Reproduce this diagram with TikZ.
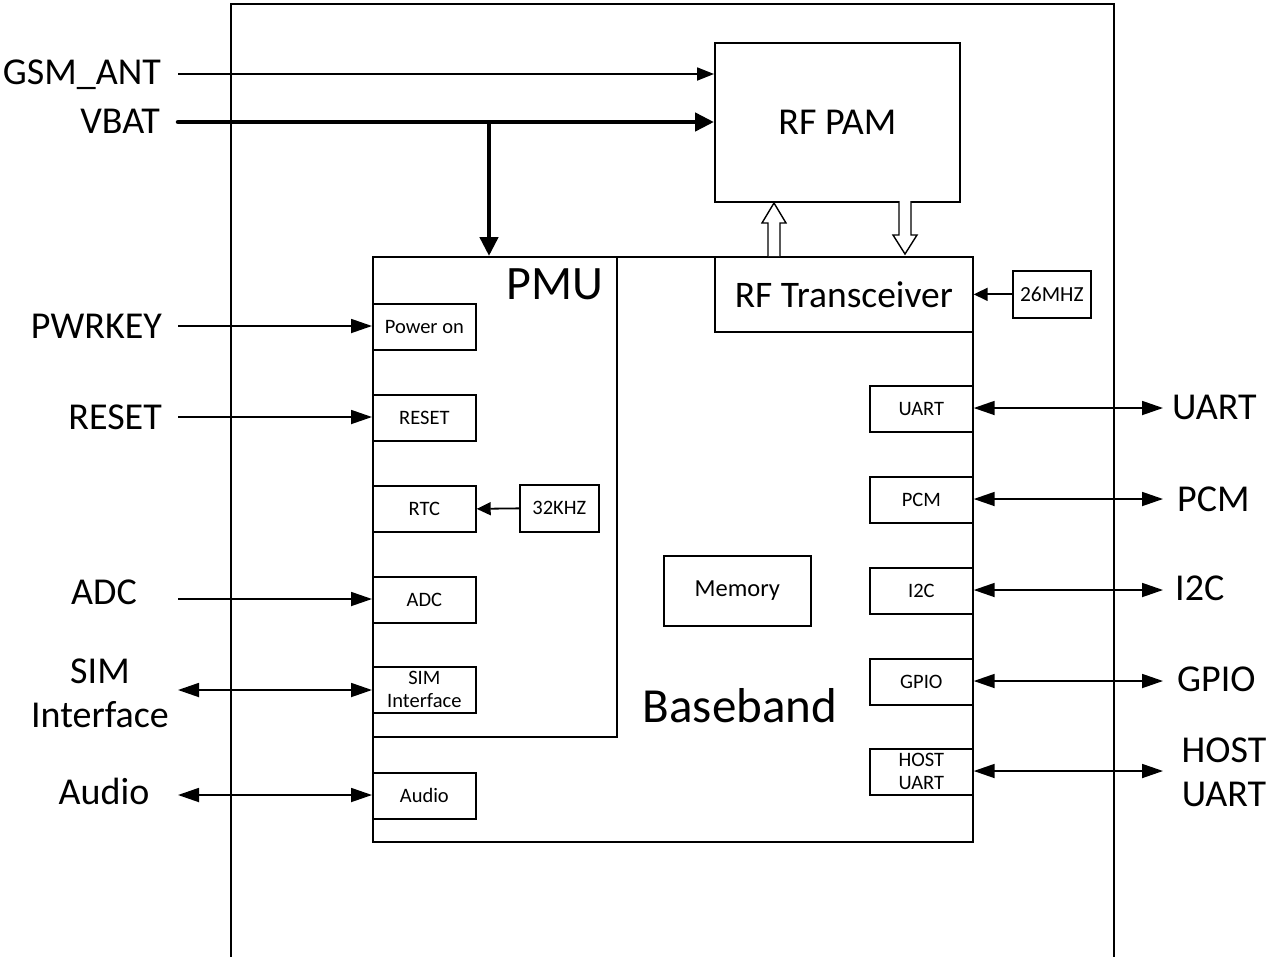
\documentclass[tikz,border=0pt]{standalone}
\usepackage{fontspec}
\setmainfont{Carlito}
\usetikzlibrary{arrows.meta}
\begin{document}
\begin{tikzpicture}[x=1pt,y=-1pt,
  blk/.style={draw, line width=1.7pt, inner sep=0pt, anchor=north west, align=center},
  sm/.style={blk, font=\fontsize{20.5}{23}\selectfont, minimum width=103pt, minimum height=46pt},
  lbl/.style={font=\fontsize{38}{44}\selectfont, inner sep=0pt, align=center},
  arr/.style={line width=1.8pt, -{Triangle[length=21pt,width=14pt]}},
  darr/.style={line width=1.8pt, {Triangle[length=21pt,width=14pt]}-{Triangle[length=21pt,width=14pt]}},
  sarr/.style={line width=1.8pt, -{Triangle[length=14pt,width=13pt]}},
  hollow/.style={draw, line width=1.4pt, fill=white, line join=miter}
]
\useasboundingbox (0,0) rectangle (1276,956);
% outer frame
\draw[line width=1.3pt] (231,4) rectangle (1114,975);

% main blocks
\node[blk, minimum width=600pt, minimum height=585pt] (bb) at (372,256) {};
\node[blk, minimum width=244pt, minimum height=480pt] (pmu) at (372,256) {};
\node[font=\fontsize{48}{52}\selectfont, inner sep=0pt] (pmut) at (555,284) {PMU};
\node[font=\fontsize{49}{54}\selectfont, inner sep=0pt] (bbt) at (740,706) {Baseband};
\node[blk, minimum width=245pt, minimum height=159pt, font=\fontsize{38}{42}\selectfont] (pam) at (714,42) {RF PAM};
\node[blk, minimum width=258pt, minimum height=75pt, font=\fontsize{37.5}{42}\selectfont] (rft) at (714,256) {RF Transceiver};
\node[sm, minimum width=78pt, minimum height=47pt, font=\fontsize{21.5}{24}\selectfont] (osc26) at (1012,270) {26MHZ};

% PMU / left blocks
\node[sm] (pwr) at (372,303) {Power on};
\node[sm] (rst) at (372,394) {RESET};
\node[sm] (rtc) at (372,485) {RTC};
\node[sm, minimum width=79pt, minimum height=47pt] (osc32) at (519,484) {32KHZ};
\node[sm] (adc) at (372,576) {ADC};
\node[sm] (sim) at (372,666) {SIM\\Interface};
\node[sm] (aud) at (372,772) {Audio};

% right blocks
\node[sm] (uart) at (869,385) {UART};
\node[sm] (pcm) at (869,476) {PCM};
\node[sm] (i2c) at (869,567) {I2C};
\node[sm] (gpio) at (869,658) {GPIO};
\node[sm] (host) at (869,748) {HOST\\UART};
\node[blk, minimum width=147pt, minimum height=70pt, font=\fontsize{24.5}{28}\selectfont] (mem) at (663,555) {\raisebox{-2pt}{Memory}};

% left labels
\node[lbl, anchor=mid east] (lgsm) at (161,82) {GSM\_ANT};
\node[lbl, anchor=mid east] (lvbat) at (160,131) {VBAT};
\node[lbl, anchor=mid east] (lpwr) at (162,336) {PWRKEY};
\node[lbl, anchor=mid east] (lrst) at (162,427) {RESET};
\node[lbl, anchor=mid] (ladc) at (104,602) {ADC};
\node[lbl] (lsim) at (100,693) {SIM\\Interface};
\node[lbl, anchor=mid] (laud) at (104,802) {Audio};

% right labels
\node[lbl, anchor=mid west] (ruart) at (1172,417) {UART};
\node[lbl, anchor=mid west] (rpcm) at (1177,509) {PCM};
\node[lbl, anchor=mid west] (ri2c) at (1175,598) {I2C};
\node[lbl, anchor=mid west] (rgpio) at (1177,689) {GPIO};
\node[lbl] (rhost) at (1224,772) {HOST\\UART};

% connector start points
\coordinate (gsmS) at (178,74);
\coordinate (vbS) at (178,122);
\coordinate (vbJ) at (489,122);
\coordinate (pwrS) at (178,326);
\coordinate (rstS) at (178,417);
\coordinate (adcS) at (178,599);
\coordinate (simS) at (178,690);
\coordinate (audS) at (178,795);
\coordinate (uartE) at (1163,408);
\coordinate (pcmE) at (1163,499);
\coordinate (i2cE) at (1163,590);
\coordinate (gpioE) at (1163,681);
\coordinate (hostE) at (1163,771);

% top arrows
\draw[line width=1.8pt, -{Triangle[length=17pt,width=13pt]}] (gsmS) -- (gsmS -| pam.west);
\draw[line width=4.5pt, line cap=round, -{Triangle[length=19pt,width=18pt]}] (vbS) -- (vbS -| pam.west);
\draw[line width=4.5pt, -{Triangle[length=19pt,width=18pt]}] (vbJ) -- (vbJ |- bb.north);

% left arrows
\draw[arr] (pwrS) -- (pwrS -| pwr.west);
\draw[arr] (rstS) -- (rstS -| rst.west);
\draw[arr] (adcS) -- (adcS -| adc.west);
\draw[darr] (simS) -- (simS -| sim.west);
\draw[darr] (audS) -- (audS -| aud.west);
\draw[sarr] (osc32.west) -- (rtc.east);
\draw[sarr] (osc26.west) -- (osc26.west -| rft.east);

% right arrows
\draw[darr] (uartE -| uart.east) -- (uartE);
\draw[darr] (pcmE -| pcm.east) -- (pcmE);
\draw[darr] (i2cE -| i2c.east) -- (i2cE);
\draw[darr] (gpioE -| gpio.east) -- (gpioE);
\draw[darr] (hostE -| host.east) -- (hostE);

% hollow block arrows between RF PAM and RF Transceiver
\draw[hollow] (768,256) -- (768,223) -- (762,223) -- (774,203) -- (786,223) -- (780,223) -- (780,256);
\draw[hollow] (899,201) -- (899,235) -- (893,235) -- (905,254) -- (917,235) -- (911,235) -- (911,201);
\end{tikzpicture}
\end{document}
